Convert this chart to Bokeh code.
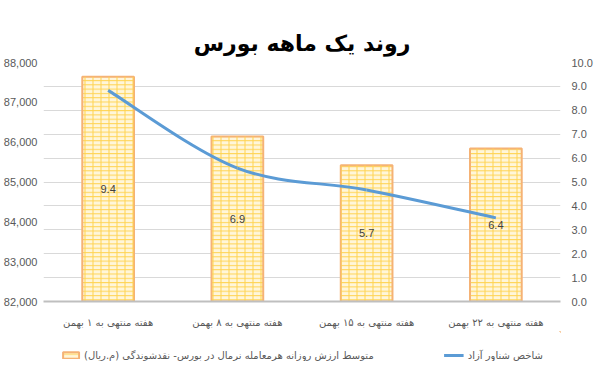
import numpy as np
from bokeh.plotting import figure
from bokeh.layouts import column
from bokeh.models import (Range1d, LinearAxis, FixedTicker, Legend, LegendItem,
                          NumeralTickFormatter, ColumnDataSource)
from bokeh.embed import file_html
from bokeh.resources import INLINE
from bokeh.core.properties import value

# ---------------- data ----------------
categories = ["هفته منتهی به ۱ بهمن", "هفته منتهی به ۸ بهمن",
              "هفته منتهی به ۱۵ بهمن", "هفته منتهی به ۲۲ بهمن"]
liquidity = [9.4, 6.9, 5.7, 6.4]                 # bars (right axis)
free_float_index = [87300, 85350, 84800, 84100]  # line (left axis)
left_ticks = [82000, 83000, 84000, 85000, 86000, 87000, 88000]
right_ticks = [0, 1, 2, 3, 4, 5, 6, 7, 8, 9, 10]
title_text = "روند یک ماهه بورس"
bar_name = "متوسط ارزش روزانه هرمعامله نرمال در بورس- نقدشوندگی (م.ریال)\u200f"
line_name = "شاخص شناور آزاد"

xs = list(range(1, len(categories) + 1))

BAR_STYLE = dict(fill_color="#FFF6DA", line_color="#F5B275", line_width=2,
                 hatch_pattern="horizontal_line", hatch_color="#FFD34F",
                 hatch_scale=4.3, hatch_weight=1)
BAR_STYLE2 = dict(fill_alpha=0, line_color=None,
                  hatch_pattern="vertical_line", hatch_color="#FFD34F",
                  hatch_scale=8, hatch_weight=1)
LINE_STYLE = dict(line_color="#5B9BD5", line_width=3)

W = 595
p = figure(width=W, height=331, output_backend="svg", toolbar_location=None,
           x_range=Range1d(0.5, len(categories) + 0.5),
           y_range=Range1d(right_ticks[0], right_ticks[-1]),
           y_axis_location="right",
           min_border_left=0, min_border_right=0, min_border_top=62, min_border_bottom=30)
p.extra_y_ranges = {"left": Range1d(left_ticks[0], left_ticks[-1])}
p.outline_line_color = None
p.background_fill_color = "white"
p.border_fill_color = "white"

# title
p.title.text = title_text
p.title.align = "center"
p.title.offset = -7
p.title.text_font = "DejaVu Sans"
p.title.text_font_size = "22px"
p.title.text_font_style = "bold"
p.title.text_color = "black"
p.title.standoff = 14

# axes
xa = p.xaxis[0]
xa.ticker = FixedTicker(ticks=xs)
xa.major_label_overrides = {x: c for x, c in zip(xs, categories)}
xa.major_tick_line_color = None
xa.major_tick_out = 0
xa.minor_tick_line_color = None
xa.minor_tick_out = 0
xa.axis_line_color = "#BFBFBF"
xa.axis_line_width = 2
xa.major_label_text_font = "DejaVu Sans"
xa.major_label_text_font_size = "10px"
xa.major_label_text_color = "#595959"
xa.major_label_standoff = 15

ra = p.yaxis[0]
ra.ticker = FixedTicker(ticks=right_ticks)
ra.formatter = NumeralTickFormatter(format="0.0")
ra.axis_line_color = None
ra.major_tick_line_color = None
ra.major_tick_out = 0
ra.minor_tick_line_color = None
ra.minor_tick_out = 0
ra.major_label_text_font = "Liberation Sans"
ra.major_label_text_font_size = "11px"
ra.major_label_text_color = "#595959"
ra.major_label_standoff = 11

la = LinearAxis(y_range_name="left", ticker=FixedTicker(ticks=left_ticks),
                formatter=NumeralTickFormatter(format="0,0"))
la.axis_line_color = None
la.major_tick_line_color = None
la.major_tick_out = 0
la.minor_tick_line_color = None
la.minor_tick_out = 0
la.major_label_text_font = "Liberation Sans"
la.major_label_text_font_size = "11px"
la.major_label_text_color = "#595959"
la.major_label_standoff = 6
p.add_layout(la, "left")

p.xgrid.visible = False
p.ygrid.grid_line_color = "#D9D9D9"
p.ygrid.grid_line_width = 1

bar_src = ColumnDataSource(dict(x=xs, top=liquidity,
                                mid=[v / 2 for v in liquidity],
                                lbl=[f"{v:.1f}" for v in liquidity]))
bars = p.vbar(x="x", top="top", width=0.4, source=bar_src, **BAR_STYLE)
p.vbar(x="x", top="top", width=0.4, source=bar_src, **BAR_STYLE2)

p.text(x="x", y="mid", text="lbl", source=bar_src, text_align="center",
       text_baseline="middle", text_font=value("Liberation Sans"),
       text_font_size="11px", text_color="#404040")

# smooth line through the free float index (cubic bezier segments)
fx = np.asarray(xs, float)
fy = np.asarray(free_float_index, float)
px = np.concatenate([[fx[0]], fx, [fx[-1]]])
py = np.concatenate([[fy[0]], fy, [fy[-1]]])
t = 1 / 6
seg = dict(x0=[], y0=[], x1=[], y1=[], cx0=[], cy0=[], cx1=[], cy1=[])
for i in range(len(fx) - 1):
    seg["x0"].append(px[i + 1]); seg["y0"].append(py[i + 1])
    seg["x1"].append(px[i + 2]); seg["y1"].append(py[i + 2])
    seg["cx0"].append(px[i + 1] + (px[i + 2] - px[i]) * t)
    seg["cy0"].append(py[i + 1] + (py[i + 2] - py[i]) * t)
    seg["cx1"].append(px[i + 2] - (px[i + 3] - px[i + 1]) * t)
    seg["cy1"].append(py[i + 2] - (py[i + 3] - py[i + 1]) * t)
seg_src = ColumnDataSource(seg)
p.bezier(source=seg_src, x0="x0", y0="y0", x1="x1", y1="y1",
         cx0="cx0", cy0="cy0", cx1="cx1", cy1="cy1",
         y_range_name="left", **LINE_STYLE)

# ---------------- legend strip (separate figure below the chart) ----------------
lf = figure(width=W, height=30, output_backend="svg", toolbar_location=None,
            x_range=Range1d(-20, -19), y_range=Range1d(-20, -19),
            x_axis_type=None, y_axis_type=None,
            min_border_left=0, min_border_right=0, min_border_top=0, min_border_bottom=0)
lf.outline_line_color = None
lf.grid.visible = False
lbars = lf.vbar(x="x", top="top", width=0.4, source=bar_src, **BAR_STYLE)
lcurve = lf.bezier(source=seg_src, x0="x0", y0="y0", x1="x1", y1="y1",
                   cx0="cx0", cy0="cy0", cx1="cx1", cy1="cy1", **LINE_STYLE)

legend = Legend(items=[LegendItem(label=bar_name, renderers=[lbars]),
                       LegendItem(label=line_name, renderers=[lcurve])],
                orientation="horizontal", location="bottom_center",
                spacing=70, glyph_width=20, glyph_height=8,
                label_height=12, label_width=10,
                label_text_font="DejaVu Sans", label_text_font_size="10px",
                label_text_color="#595959", border_line_color=None,
                background_fill_alpha=0, padding=2, margin=0, label_standoff=4)
lf.add_layout(legend)

layout = column(p, lf, spacing=0)
open("out.html", "w").write(file_html(layout, INLINE))
